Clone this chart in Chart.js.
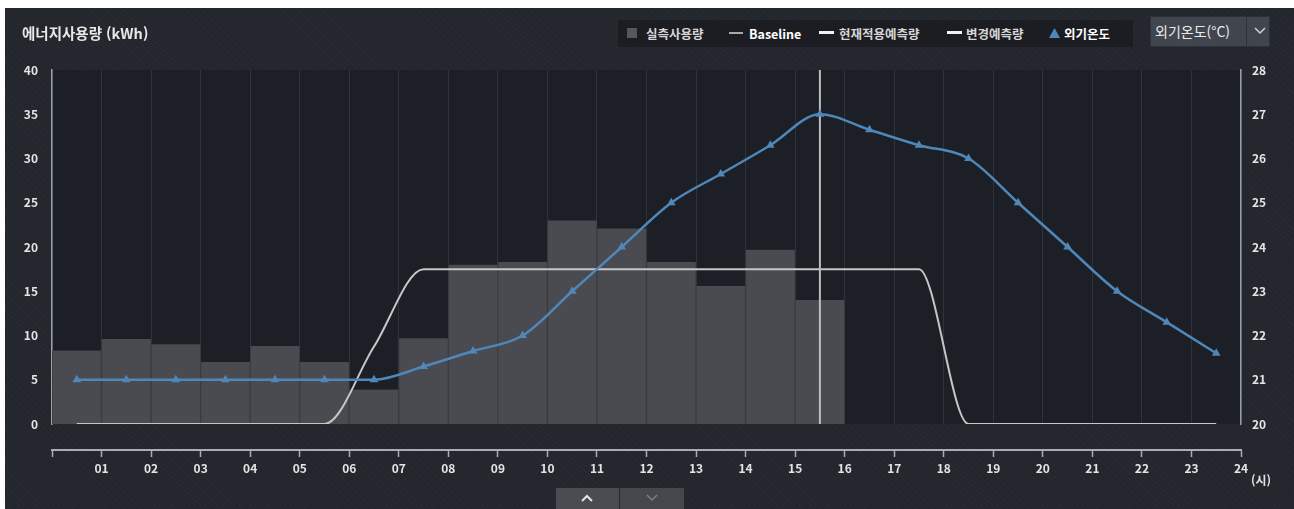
<!DOCTYPE html>
<html lang="ko">
<head>
<meta charset="utf-8">
<script src="https://cdn.jsdelivr.net/npm/chart.js@4.4.1/dist/chart.umd.min.js"></script>
<style>
  html, body { margin:0; padding:0; background:#ffffff; width:1294px; height:509px; overflow:hidden; }
  body { font-family: 'Noto Sans CJK KR', 'Noto Sans', sans-serif; }
  #panel { position:absolute; left:5px; top:8px; width:1289px; height:501px;
    background-color:#24262d;
    background-image: repeating-linear-gradient(45deg, rgba(255,255,255,0.018) 0 1px, rgba(0,0,0,0) 1px 4px); }
  #chart { position:absolute; left:0; top:0; }
  .abs { position:absolute; white-space:nowrap; }
  #title { left:22px; top:23px; font-size:14.5px; font-weight:700; color:#e8e8e8; line-height:20px; }
  #legendBox { left:618px; top:20px; width:515px; height:27px; background:#1b1d23; }
  .lg { font-size:12.5px; font-weight:700; color:#d6d6d6; top:25px; line-height:17px; }
  .sw { position:absolute; }
  #dd { left:1150px; top:16px; width:120px; height:31px; background:#41454d; border:1px solid #2d3037; box-sizing:border-box; }
  #ddText { left:1155px; top:21px; font-size:14px; color:#ececec; line-height:20px; }
  #ddSep { left:1246px; top:17px; width:1px; height:29px; background:#2e3138; }
  #unit { left:1251px; top:471px; font-size:12px; font-weight:700; color:#e0e0e0; line-height:18px; }
  .btn { top:488px; height:21px; }
</style>
</head>
<body>
<div id="panel"></div>
<canvas id="chart" width="1294" height="509"></canvas>

<div id="title" class="abs">에너지사용량 (kWh)</div>

<div id="legendBox" class="abs"></div>
<div class="sw" style="left:627px;top:28px;width:10px;height:10px;background:#56575c;"></div>
<div class="abs lg" style="left:646px;">실측사용량</div>
<div class="sw" style="left:729px;top:32px;width:14px;height:2px;background:#a9a9ab;"></div>
<div class="abs lg" style="left:749px;color:#ffffff;">Baseline</div>
<div class="sw" style="left:819px;top:31px;width:15px;height:3px;background:#f2f2f2;"></div>
<div class="abs lg" style="left:839px;">현재적용예측량</div>
<div class="sw" style="left:947px;top:31px;width:15px;height:3px;background:#f2f2f2;"></div>
<div class="abs lg" style="left:966px;">변경예측량</div>
<svg class="sw" style="left:1049px;top:28px;" width="11" height="10"><polygon points="5.5,0 11,10 0,10" fill="#4f87b9"/></svg>
<div class="abs lg" style="left:1064px;color:#ffffff;">외기온도</div>

<div id="dd" class="abs"></div>
<div id="ddText" class="abs">외기온도(°C)</div>
<div id="ddSep" class="abs"></div>
<svg class="sw" style="left:1254px;top:27px;" width="12" height="8"><polyline points="1,1 6,6 11,1" fill="none" stroke="#d0d0d0" stroke-width="1.5"/></svg>

<div id="unit" class="abs">(시)</div>

<div class="abs btn" style="left:556px;width:63px;background:#4a4c51;"></div>
<div class="abs btn" style="left:620px;width:64px;background:#45474c;"></div>
<svg class="sw" style="left:581px;top:494px;" width="12" height="8"><polyline points="1,7 6,2 11,7" fill="none" stroke="#e4e4e4" stroke-width="2"/></svg>
<svg class="sw" style="left:646px;top:494px;" width="12" height="8"><polyline points="1,1 6,6 11,1" fill="none" stroke="#7c7e83" stroke-width="1.5"/></svg>

<script>
// ---- data ----
const hourTicks = [0,1,2,3,4,5,6,7,8,9,10,11,12,13,14,15,16,17,18,19,20,21,22,23,24];
const usageHours = [0,1,2,3,4,5,6,7,8,9,10,11,12,13,14,15];
const usage = [8.3, 9.6, 9.0, 7.0, 8.8, 7.0, 3.9, 9.7, 18.0, 18.3, 23.0, 22.1, 18.3, 15.6, 19.7, 14.0];
const lineHours = [0,1,2,3,4,5,6,7,8,9,10,11,12,13,14,15,16,17,18,19,20,21,22,23];
const baseline = [0,0,0,0,0,0,8.75,17.5,17.5,17.5,17.5,17.5,17.5,17.5,17.5,17.5,17.5,17.5,0,0,0,0,0,0];
const temperature = [21.0,21.0,21.0,21.0,21.0,21.0,21.0,21.3,21.65,22.0,23.0,24.0,25.0,25.65,26.3,27.0,26.65,26.3,26.0,25.0,24.0,23.0,22.3,21.6];
const leftTicks = [0,5,10,15,20,25,30,35,40];
const rightTicks = [20,21,22,23,24,25,26,27,28];
const crosshairHour = 15.5;

const pad2 = v => (v < 10 ? '0' : '') + v;

Chart.defaults.font.family = "'Noto Sans CJK KR', 'Noto Sans', sans-serif";

const plotBg = {
  id: 'plotBg',
  beforeDraw(chart) {
    const a = chart.chartArea, c = chart.ctx;
    c.save(); c.fillStyle = '#1d1f27'; c.fillRect(a.left, a.top, a.right - a.left, a.bottom - a.top); c.restore();
  },
  beforeDatasetDraw(chart, args) {
    if (args.index !== 2) return;
    const a = chart.chartArea, c = chart.ctx;
    const x = chart.scales.x.getPixelForValue(crosshairHour);
    c.save(); c.strokeStyle = '#bdbdbd'; c.lineWidth = 2;
    c.beginPath(); c.moveTo(x, a.top); c.lineTo(x, a.bottom); c.stroke(); c.restore();
  }
};

const tickFont = { size: 12, weight: 'bold' };

new Chart(document.getElementById('chart'), {
  type: 'bar',
  data: {
    datasets: [
      {
        type: 'bar', label: '실측사용량',
        data: usageHours.map((h, i) => ({ x: h + 0.5, y: usage[i] })),
        backgroundColor: '#4a4b50', borderColor: '#3b3c41',
        borderWidth: { left: 1, right: 1, top: 0, bottom: 0 },
        barPercentage: 1, categoryPercentage: 1,
        xAxisID: 'x', yAxisID: 'y', order: 3
      },
      {
        type: 'line', label: 'Baseline',
        data: lineHours.map((h, i) => ({ x: h + 0.5, y: baseline[i] })),
        borderColor: '#c6c6c6', borderWidth: 2, pointRadius: 0,
        cubicInterpolationMode: 'monotone', fill: false,
        xAxisID: 'x', yAxisID: 'y', order: 2
      },
      {
        type: 'line', label: '외기온도',
        data: lineHours.map((h, i) => ({ x: h + 0.5, y: temperature[i] })),
        borderColor: '#4f87b9', backgroundColor: '#4f87b9', borderWidth: 2.5,
        pointStyle: 'triangle', pointRadius: 5, pointBorderWidth: 0,
        cubicInterpolationMode: 'monotone', fill: false,
        xAxisID: 'x', yAxisID: 'y1', order: 1
      }
    ]
  },
  options: {
    responsive: false, animation: false,
    layout: { padding: { top: 70, left: 0, right: 0, bottom: 0 } },
    plugins: { legend: { display: false }, tooltip: { enabled: false } },
    scales: {
      x: {
        type: 'linear', position: 'bottom', weight: 0, min: 0, max: 24, offset: false,
        ticks: { display: false, stepSize: 1 },
        grid: { color: '#30333c', lineWidth: 1, drawTicks: false, offset: false },
        border: { display: false },
        afterFit(s) { s.height = 26; }
      },
      x2: {
        type: 'linear', axis: 'x', position: 'bottom', weight: 1, min: 0, max: 24, offset: false,
        afterBuildTicks(s) { s.ticks = hourTicks.map(v => ({ value: v })); },
        ticks: { color: '#e4e4e4', font: tickFont, padding: 4, maxRotation: 0, autoSkip: false,
                 callback: v => (v === 0 ? '' : pad2(v)) },
        grid: { drawOnChartArea: false, drawTicks: true, tickLength: 7, tickColor: '#a9aeb6', tickWidth: 1.5, offset: false },
        border: { display: true, color: '#a9aeb6', width: 2 },
        afterFit(s) { s.height = 59; }
      },
      y: {
        type: 'linear', position: 'left', min: 0, max: 40,
        afterBuildTicks(s) { s.ticks = leftTicks.map(v => ({ value: v })); },
        ticks: { color: '#e4e4e4', font: tickFont, padding: 14 },
        grid: { display: false, drawTicks: false },
        border: { display: true, color: '#9aa0aa', width: 1.5 },
        afterFit(s) { s.width = 52; }
      },
      y1: {
        type: 'linear', position: 'right', min: 20, max: 28,
        afterBuildTicks(s) { s.ticks = rightTicks.map(v => ({ value: v })); },
        ticks: { color: '#e4e4e4', font: tickFont, padding: 11 },
        grid: { display: false, drawTicks: false },
        border: { display: true, color: '#9aa0aa', width: 1.5 },
        afterFit(s) { s.width = 53; }
      }
    }
  },
  plugins: [plotBg]
});
</script>
</body>
</html>
